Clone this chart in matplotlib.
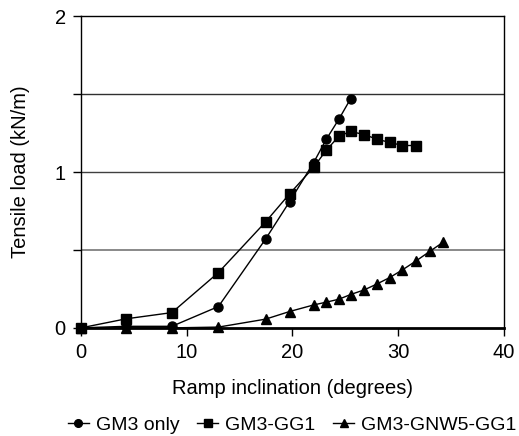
import matplotlib
matplotlib.use('Agg')
import matplotlib.pyplot as plt

plt.rcParams.update({'font.size': 14.5, 'font.family': ['Liberation Sans', 'DejaVu Sans']})

# ramp inclination (degrees)
x_gm3 = [0, 4.26, 8.6, 13.0, 17.46, 19.73, 22.0, 23.2, 24.4, 25.5]
y_gm3 = [0, 0.01, 0.01, 0.137, 0.57, 0.81, 1.06, 1.21, 1.34, 1.47]

x_gg1 = [0, 4.26, 8.6, 13.0, 17.46, 19.73, 22.0, 23.2, 24.4, 25.5, 26.8, 28.0, 29.2, 30.4, 31.7]
y_gg1 = [0, 0.058, 0.098, 0.355, 0.68, 0.86, 1.03, 1.14, 1.23, 1.26, 1.24, 1.21, 1.19, 1.17, 1.17]

x_gnw = [0, 4.26, 8.6, 13.0, 17.46, 19.73, 22.0, 23.2, 24.4, 25.5, 26.8, 28.0, 29.2, 30.4, 31.7, 32.97, 34.26]
y_gnw = [0, 0.0, 0.0, 0.005, 0.056, 0.105, 0.147, 0.165, 0.184, 0.214, 0.244, 0.282, 0.323, 0.372, 0.43, 0.49, 0.55]

fig = plt.figure(figsize=(5.19, 4.36), dpi=100)
ax = fig.add_axes([0.156, 0.248, 0.815, 0.715])

ax.axhline(0.5, color='#808080', lw=1.3, zorder=1)
ax.axhline(1.0, color='#404040', lw=1, zorder=1)
ax.axhline(1.5, color='#303030', lw=1, zorder=1)

ax.plot(x_gm3, y_gm3, 'k-', marker='o', ms=6.5, lw=1, label='GM3 only', zorder=3, clip_on=False)
ax.plot(x_gg1, y_gg1, 'k-', marker='s', ms=6.5, lw=1, label='GM3-GG1', zorder=3, clip_on=False)
ax.plot(x_gnw, y_gnw, 'k-', marker='^', ms=6.5, lw=1, label='GM3-GNW5-GG1', zorder=3, clip_on=False)

ax.set_xlim(0, 40)
ax.set_ylim(0, 2)
ax.set_xticks([0, 10, 20, 30, 40])
ax.set_yticks([0, 0.5, 1, 1.5, 2])
ax.set_yticklabels(['0', '', '1', '', '2'])
ax.tick_params(direction='out', length=6, width=1, color='black', pad=5)
for s in ['top', 'right', 'left']:
    ax.spines[s].set_linewidth(1)
ax.spines['bottom'].set_linewidth(2)
ax.set_xlabel('Ramp inclination (degrees)', labelpad=12)
ax.set_ylabel('Tensile load (kN/m)', labelpad=18)

fig.legend(loc='lower right', ncol=3, frameon=False, fontsize=14, handlelength=1.1,
           handletextpad=0.35, columnspacing=0.9, bbox_to_anchor=(0.999, 0.0),
           borderpad=0.1, borderaxespad=0.0, markerscale=0.85)

fig.savefig('out.png', dpi=100)
